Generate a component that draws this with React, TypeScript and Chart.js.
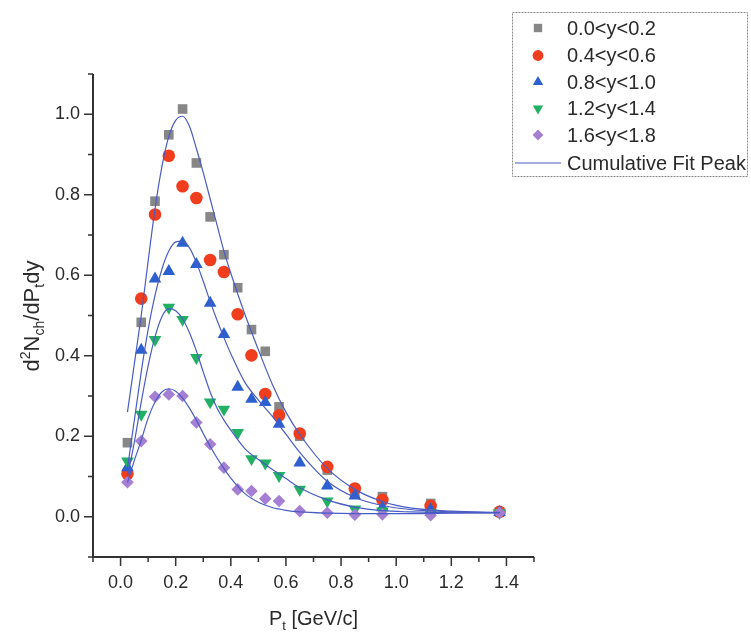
import React, { useEffect, useRef } from 'react';
import { Chart, registerables } from 'chart.js';

Chart.register(...registerables);

const FONT = '"Liberation Sans", Arial, Helvetica, sans-serif';

// Transverse momentum bin centres (GeV/c)
const ptX = [0.025, 0.075, 0.125, 0.175, 0.225, 0.275, 0.325, 0.375, 0.425, 0.475, 0.525, 0.575, 0.65, 0.75, 0.85, 0.95, 1.125, 1.375];

const series00 = [0.184, 0.483, 0.784, 0.949, 1.013, 0.879, 0.745, 0.651, 0.569, 0.465, 0.411, 0.273, 0.2, 0.116, 0.06, 0.05, 0.033, 0.012];
const series04 = [0.107, 0.542, 0.751, 0.897, 0.821, 0.792, 0.638, 0.608, 0.503, 0.401, 0.305, 0.252, 0.207, 0.124, 0.07, 0.042, 0.027, 0.012];
const series08 = [0.122, 0.414, 0.591, 0.61, 0.68, 0.627, 0.531, 0.453, 0.322, 0.292, 0.284, 0.23, 0.134, 0.077, 0.052, 0.023, 0.018, 0.011];
const series12 = [0.138, 0.254, 0.44, 0.52, 0.49, 0.395, 0.285, 0.267, 0.209, 0.144, 0.133, 0.102, 0.068, 0.039, 0.019, 0.014, 0.01, 0.01];
const series16 = [0.086, 0.188, 0.298, 0.304, 0.3, 0.234, 0.18, 0.122, 0.068, 0.064, 0.045, 0.039, 0.014, 0.01, 0.005, 0.006, 0.004, 0.01];

// Fit curves
const fitX = [0.025, 0.05, 0.075, 0.1, 0.125, 0.15, 0.175, 0.2, 0.225, 0.25, 0.275, 0.3, 0.325, 0.35, 0.375, 0.4, 0.45, 0.5, 0.55, 0.6, 0.65, 0.75, 0.85, 0.95, 1.05, 1.2, 1.375];
const fitTop = [0.26, 0.38, 0.5, 0.635, 0.765, 0.87, 0.945, 0.985, 0.995, 0.97, 0.915, 0.855, 0.79, 0.725, 0.66, 0.605, 0.505, 0.415, 0.33, 0.26, 0.205, 0.12, 0.068, 0.038, 0.022, 0.014, 0.011];
const fitBlue = [0.12, 0.24, 0.36, 0.465, 0.55, 0.615, 0.66, 0.683, 0.685, 0.668, 0.632, 0.585, 0.535, 0.488, 0.445, 0.405, 0.335, 0.29, 0.25, 0.205, 0.16, 0.088, 0.048, 0.028, 0.018, 0.012, 0.01];
const fitGreen = [0.1, 0.185, 0.285, 0.375, 0.447, 0.497, 0.517, 0.512, 0.492, 0.457, 0.412, 0.36, 0.31, 0.27, 0.24, 0.215, 0.17, 0.142, 0.118, 0.095, 0.072, 0.042, 0.024, 0.015, 0.012, 0.01, 0.01];
const fitPurple = [0.085, 0.14, 0.19, 0.245, 0.285, 0.31, 0.318, 0.312, 0.295, 0.27, 0.24, 0.207, 0.175, 0.146, 0.12, 0.096, 0.058, 0.036, 0.023, 0.016, 0.012, 0.009, 0.008, 0.008, 0.008, 0.009, 0.01];

const xTickValues = [0, 0.2, 0.4, 0.6, 0.8, 1.0, 1.2, 1.4];
const yTickValues = [0, 0.2, 0.4, 0.6, 0.8, 1.0];

const seriesLabels = ['0.0<y<0.2', '0.4<y<0.6', '0.8<y<1.0', '1.2<y<1.4', '1.6<y<1.8'];
const fitLabel = 'Cumulative Fit Peak';

const COLORS = ['#878787', '#f03d1e', '#2c5fcf', '#21b064', '#a57fd3'];
const FIT_COLOR = '#4a5cc4';

const pairs = (xs: number[], ys: number[]) => xs.map((x, i) => ({ x, y: ys[i] }));

function drawMarker(ctx: CanvasRenderingContext2D, kind: number, x: number, y: number, s: number) {
  ctx.beginPath();
  if (kind === 0) {
    ctx.rect(x - s * 0.7, y - s * 0.7, s * 1.4, s * 1.4);
  } else if (kind === 1) {
    ctx.arc(x, y, s * 0.9, 0, Math.PI * 2);
  } else if (kind === 2) {
    ctx.moveTo(x, y - s);
    ctx.lineTo(x + s * 0.866, y + s * 0.5);
    ctx.lineTo(x - s * 0.866, y + s * 0.5);
    ctx.closePath();
  } else if (kind === 3) {
    ctx.moveTo(x, y + s);
    ctx.lineTo(x + s * 0.866, y - s * 0.5);
    ctx.lineTo(x - s * 0.866, y - s * 0.5);
    ctx.closePath();
  } else {
    ctx.moveTo(x, y - s * 0.9);
    ctx.lineTo(x + s * 0.9, y);
    ctx.lineTo(x, y + s * 0.9);
    ctx.lineTo(x - s * 0.9, y);
    ctx.closePath();
  }
  ctx.fill();
}

function drawPieces(ctx: CanvasRenderingContext2D, pieces: { t: string; s: number; dy: number }[], cx: number, baseline: number) {
  let total = 0;
  const widths = pieces.map((p) => {
    ctx.font = `${p.s}px ${FONT}`;
    const w = ctx.measureText(p.t).width;
    total += w;
    return w;
  });
  let x = cx - total / 2;
  pieces.forEach((p, i) => {
    ctx.font = `${p.s}px ${FONT}`;
    ctx.fillText(p.t, x, baseline + p.dy);
    x += widths[i];
  });
}

const decorPlugin = {
  id: 'decor',
  afterDraw(chart: any) {
    const { ctx, chartArea: ca } = chart;
    const xs = chart.scales.x;
    const ys = chart.scales.y;
    ctx.save();
    // axis lines
    ctx.strokeStyle = '#333';
    ctx.lineWidth = 2;
    ctx.beginPath();
    ctx.moveTo(ca.left, ca.top);
    ctx.lineTo(ca.left, ca.bottom);
    ctx.lineTo(ca.right, ca.bottom);
    ctx.stroke();
    // ticks
    ctx.lineWidth = 1.5;
    ctx.beginPath();
    for (let i = -1; i <= 15; i++) {
      const px = xs.getPixelForValue(i / 10);
      const len = i >= 0 && i % 2 === 0 ? 9 : 5;
      ctx.moveTo(px, ca.bottom);
      ctx.lineTo(px, ca.bottom + len);
    }
    for (let i = -1; i <= 11; i++) {
      const py = ys.getPixelForValue(i / 10);
      const len = i >= 0 && i % 2 === 0 ? 9 : 5;
      ctx.moveTo(ca.left, py);
      ctx.lineTo(ca.left - len, py);
    }
    ctx.stroke();

    // axis titles
    ctx.fillStyle = '#2a2a2a';
    ctx.textBaseline = 'alphabetic';
    ctx.textAlign = 'left';
    drawPieces(ctx, [
      { t: 'P', s: 20, dy: 0 },
      { t: 't', s: 13, dy: 5 },
      { t: ' [GeV/c]', s: 20, dy: 0 },
    ], (ca.left + ca.right) / 2, 625);

    ctx.save();
    ctx.translate(31, 316);
    ctx.rotate(-Math.PI / 2);
    drawPieces(ctx, [
      { t: 'd', s: 22, dy: 0 },
      { t: '2', s: 14, dy: -9 },
      { t: 'N', s: 22, dy: 0 },
      { t: 'ch', s: 14, dy: 5 },
      { t: '/dP', s: 22, dy: 0 },
      { t: 't', s: 14, dy: 5 },
      { t: 'dy', s: 22, dy: 0 },
    ], 0, 8);
    ctx.restore();

    // legend
    ctx.fillStyle = '#ffffff';
    ctx.fillRect(512, 12, 236, 165);
    ctx.strokeStyle = '#8a8a8a';
    ctx.lineWidth = 1;
    ctx.setLineDash([2, 1]);
    ctx.strokeRect(512.5, 12.5, 235, 164);
    ctx.setLineDash([]);
    const rowY = [28, 55.5, 82, 108.5, 135, 163];
    ctx.font = `20px ${FONT}`;
    ctx.textBaseline = 'middle';
    seriesLabels.forEach((lab, i) => {
      ctx.fillStyle = COLORS[i];
      drawMarker(ctx, i, 538, rowY[i], 6);
      ctx.fillStyle = '#2a2a2a';
      ctx.fillText(lab, 567, rowY[i] + 1);
    });
    ctx.strokeStyle = FIT_COLOR;
    ctx.lineWidth = 1.2;
    ctx.beginPath();
    ctx.moveTo(515, rowY[5]);
    ctx.lineTo(561, rowY[5]);
    ctx.stroke();
    ctx.fillStyle = '#2a2a2a';
    ctx.fillText(fitLabel, 567, rowY[5] + 1);
    ctx.restore();
  },
};

export default function App() {
  const ref = useRef<HTMLCanvasElement | null>(null);

  useEffect(() => {
    document.body.style.margin = '0';
    const canvas = ref.current;
    if (!canvas) return;

    const pointStyles: any[] = ['rect', 'circle', 'triangle', 'triangle', 'rectRot'];
    const rotations = [0, 0, 0, 180, 0];
    const radii = [6.8, 6.3, 7.3, 7.3, 6.3];
    const seriesData = [series00, series04, series08, series12, series16];

    const pointSets = seriesData.map((ys, i) => ({
      label: seriesLabels[i],
      data: pairs(ptX, ys),
      showLine: false,
      pointStyle: pointStyles[i],
      rotation: rotations[i],
      pointRadius: radii[i],
      pointHoverRadius: radii[i],
      pointBackgroundColor: COLORS[i],
      pointBorderWidth: 0,
      pointBorderColor: COLORS[i],
      backgroundColor: COLORS[i],
      borderColor: COLORS[i],
      order: 10 - i,
    }));

    const fits = [fitTop, fitBlue, fitGreen, fitPurple].map((ys, i) => ({
      label: i === 0 ? fitLabel : `${fitLabel} ${i}`,
      data: pairs(fitX, ys),
      showLine: true,
      pointRadius: 0,
      pointHoverRadius: 0,
      borderColor: FIT_COLOR,
      borderWidth: 1.2,
      cubicInterpolationMode: 'monotone' as const,
      fill: false,
      order: 1,
    }));

    const chart = new Chart(canvas, {
      type: 'scatter',
      data: { datasets: [...pointSets, ...fits] as any },
      options: {
        responsive: false,
        animation: false,
        devicePixelRatio: 1,
        layout: { padding: { left: 0, top: 74, right: 217, bottom: 0 } },
        plugins: {
          legend: { display: false },
          tooltip: { enabled: false },
          title: { display: false },
        },
        scales: {
          x: {
            type: 'linear',
            min: -0.1,
            max: 1.5,
            grid: { display: false, drawTicks: false, tickLength: 0 },
            border: { display: false },
            afterBuildTicks: (s: any) => {
              s.ticks = xTickValues.map((v) => ({ value: v }));
            },
            afterFit: (s: any) => {
              s.height = 77;
            },
            ticks: {
              padding: 15,
              autoSkip: false,
              maxRotation: 0,
              color: '#2a2a2a',
              font: { family: FONT, size: 18 },
              callback: (v: any) => Number(v).toFixed(1),
            },
          },
          y: {
            type: 'linear',
            min: -0.1,
            max: 1.1,
            grid: { display: false, drawTicks: false, tickLength: 0 },
            border: { display: false },
            afterBuildTicks: (s: any) => {
              s.ticks = yTickValues.map((v) => ({ value: v }));
            },
            afterFit: (s: any) => {
              s.width = 93;
            },
            ticks: {
              padding: 13,
              autoSkip: false,
              color: '#2a2a2a',
              font: { family: FONT, size: 18 },
              callback: (v: any) => Number(v).toFixed(1),
            },
          },
        },
      },
      plugins: [decorPlugin],
    });

    return () => chart.destroy();
  }, []);

  return (
    <div style={{ width: 751, height: 634, background: '#fff' }}>
      <canvas ref={ref} width={751} height={634} style={{ display: 'block', width: 751, height: 634 }} />
    </div>
  );
}
